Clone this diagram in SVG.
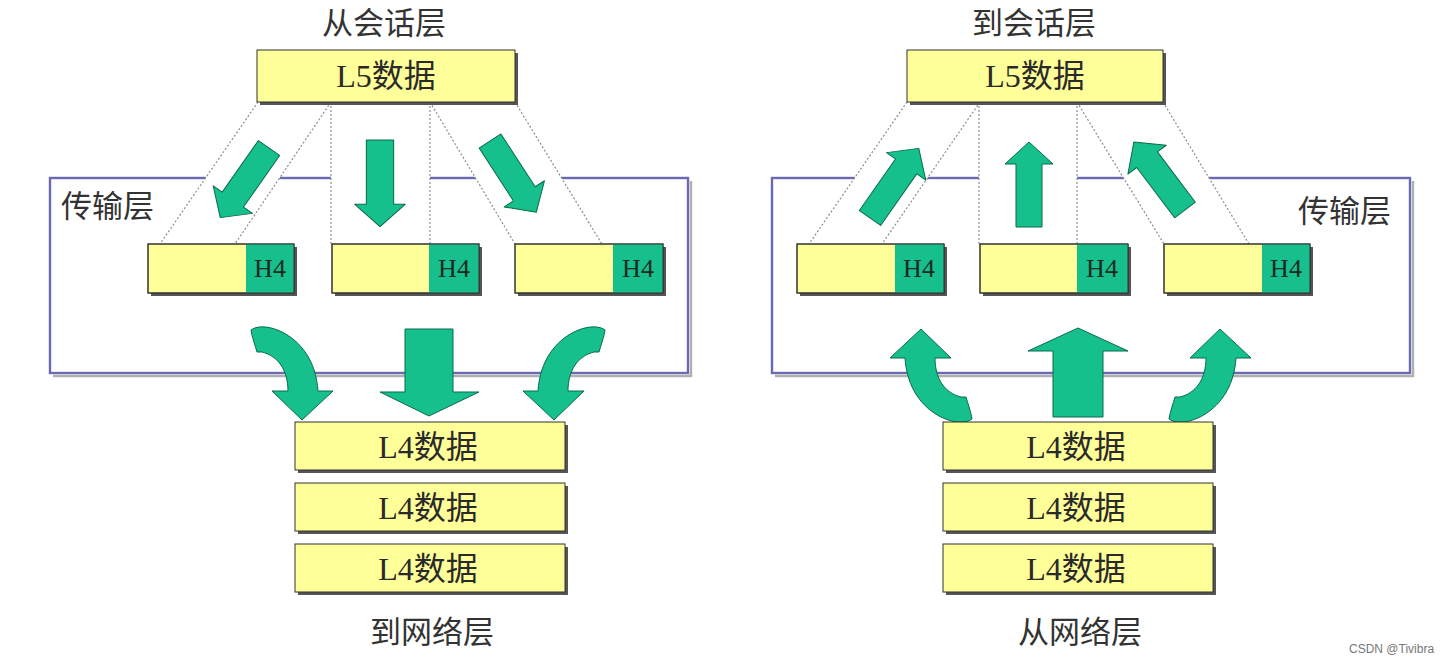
<svg xmlns="http://www.w3.org/2000/svg" xmlns:xlink="http://www.w3.org/1999/xlink" width="1449" height="663" viewBox="0 0 1449 663">
  <style>
    .shadow { fill: #555555; }
    .ybox { fill: #ffff99; stroke: #333; stroke-width: 1; }
    .gpart { fill: #17bf8d; }
    .outline { fill: none; stroke: #333; stroke-width: 1; }
    .frame { fill: none; stroke: #6a6ab2; stroke-width: 2.4; }
    .frame-shadow { fill: none; stroke: #b0b0b0; stroke-width: 2.4; }
    .band { fill: #ffffff; }
    .dot { fill: none; stroke: #8c8c8c; stroke-width: 1.2; stroke-dasharray: 2 2; }
    .arrow { fill: #15c08c; stroke: #0b6a4d; stroke-width: 1; stroke-linejoin: round; }
    .label { font-family: 'Noto Sans CJK SC', 'Noto Sans', sans-serif; font-size: 31px; fill: #333; text-anchor: middle; }
    .label-start { font-family: 'Noto Sans CJK SC', 'Noto Sans', sans-serif; font-size: 31px; fill: #333; }
    .data { font-family: 'Liberation Serif', 'Noto Sans CJK SC', serif; font-size: 32px; fill: #2a2a2a; text-anchor: middle; }
    .hdr { font-family: 'Liberation Serif', serif; font-size: 26px; fill: #1c2a22; text-anchor: middle; }
    .credit { font-family: 'Liberation Sans', Arial, sans-serif; font-size: 12px; fill: #777; }
  </style>
  <defs>
    <!-- straight block arrow, tail at origin, pointing along +y -->
    <path id="blockArrow" d="M-13,0 H13 V63 H24 L0,85 L-24,63 H-13 Z"/>
    <!-- curved ribbon arrow bending down to the right -->
    <path id="curveArrow" d="M251,330 C256,326 268,325 282,332 C300,341 316,360 318,391 L333,391 L302,420 L272,391 L288,391 C288,370 278,356 262,352 L257,352 C255,345 252,337 251,330 Z"/>
  </defs>

  <rect width="1449" height="663" fill="#ffffff"/>

  <!-- transport layer frames (shadow on bottom and right only) -->
  <g id="transport-left">
    <polyline class="frame-shadow" points="53,376 691,376 691,181"/>
    <rect class="frame" x="50" y="178" width="638" height="195"/>
    <text class="label-start" x="61" y="217">传输层</text>
  </g>
  <g id="transport-right">
    <polyline class="frame-shadow" points="775,376 1413,376 1413,181"/>
    <rect class="frame" x="772" y="178" width="638" height="195"/>
    <text class="label-start" x="1298" y="222">传输层</text>
  </g>

  <!-- connectors: segmentation guides and flow arrows -->
  <g id="connectors">
    <!-- guide bands (left: segmentation) -->
    <polygon class="band" points="258,102 331,102 235,244 160,244"/>
    <rect class="band" x="331" y="102" width="99" height="142"/>
    <polygon class="band" points="430,102 515,102 602,244 515,244"/>
    <line class="dot" x1="258" y1="102" x2="160" y2="244"/>
    <line class="dot" x1="331" y1="102" x2="235" y2="244"/>
    <line class="dot" x1="331" y1="102" x2="331" y2="244"/>
    <line class="dot" x1="430" y1="102" x2="430" y2="244"/>
    <line class="dot" x1="430" y1="102" x2="515" y2="244"/>
    <line class="dot" x1="515" y1="102" x2="602" y2="244"/>

    <!-- guide bands (right: reassembly) -->
    <polygon class="band" points="907,102 980,102 882,244 809,244"/>
    <rect class="band" x="979" y="102" width="98" height="142"/>
    <polygon class="band" points="1077,102 1163,102 1249,244 1164,244"/>
    <line class="dot" x1="907" y1="102" x2="809" y2="244"/>
    <line class="dot" x1="980" y1="102" x2="882" y2="244"/>
    <line class="dot" x1="979" y1="102" x2="979" y2="244"/>
    <line class="dot" x1="1077" y1="102" x2="1077" y2="244"/>
    <line class="dot" x1="1077" y1="102" x2="1164" y2="244"/>
    <line class="dot" x1="1163" y1="102" x2="1249" y2="244"/>

    <!-- L5 to segments -->
    <use xlink:href="#blockArrow" class="arrow" transform="translate(269,148) rotate(35)"/>
    <use xlink:href="#blockArrow" class="arrow" transform="translate(380,140) scale(1.05,1.02)"/>
    <use xlink:href="#blockArrow" class="arrow" transform="translate(490,141) rotate(-33)"/>

    <!-- segments to L5 -->
    <use xlink:href="#blockArrow" class="arrow" transform="translate(870,218) rotate(215)"/>
    <use xlink:href="#blockArrow" class="arrow" transform="translate(1029,227) rotate(180)"/>
    <use xlink:href="#blockArrow" class="arrow" transform="translate(1185,210) rotate(143)"/>

    <!-- transport to network -->
    <use xlink:href="#curveArrow" class="arrow"/>
    <path class="arrow" d="M405,329 H453 V392 H479 L429,416 L380,392 H405 Z"/>
    <use xlink:href="#curveArrow" class="arrow" transform="matrix(-1,0,0,1,856,0)"/>

    <!-- network to transport -->
    <use xlink:href="#curveArrow" class="arrow" transform="matrix(-1,0,0,-1,1223,749)"/>
    <path class="arrow" d="M1053,417 H1103 V351 H1128 L1078,328 L1028,351 H1053 Z"/>
    <use xlink:href="#curveArrow" class="arrow" transform="matrix(1,0,0,-1,918,749)"/>
  </g>

  <!-- session layer data -->
  <g id="session-left">
    <text class="label" x="384" y="34">从会话层</text>
    <rect class="shadow" x="260" y="53" width="258" height="52"/>
    <rect class="ybox" x="257" y="50" width="258" height="52"/>
    <text class="data" x="386" y="87">L5数据</text>
  </g>
  <g id="session-right">
    <text class="label" x="1034" y="34">到会话层</text>
    <rect class="shadow" x="910" y="53" width="256" height="52"/>
    <rect class="ybox" x="907" y="50" width="256" height="52"/>
    <text class="data" x="1035" y="87">L5数据</text>
  </g>

  <!-- segments with H4 headers -->
  <g id="seg-left-1">
    <rect class="shadow" x="151" y="247" width="146" height="49"/>
    <rect class="ybox" x="148" y="244" width="146" height="49"/>
    <rect class="gpart" x="246" y="244" width="48" height="49"/>
    <rect class="outline" x="148" y="244" width="146" height="49"/>
    <text class="hdr" x="270" y="277">H4</text>
  </g>
  <g id="seg-left-2">
    <rect class="shadow" x="335" y="247" width="147" height="49"/>
    <rect class="ybox" x="332" y="244" width="147" height="49"/>
    <rect class="gpart" x="429" y="244" width="50" height="49"/>
    <rect class="outline" x="332" y="244" width="147" height="49"/>
    <text class="hdr" x="454" y="277">H4</text>
  </g>
  <g id="seg-left-3">
    <rect class="shadow" x="518" y="247" width="148" height="49"/>
    <rect class="ybox" x="515" y="244" width="148" height="49"/>
    <rect class="gpart" x="613" y="244" width="50" height="49"/>
    <rect class="outline" x="515" y="244" width="148" height="49"/>
    <text class="hdr" x="638" y="277">H4</text>
  </g>
  <g id="seg-right-1">
    <rect class="shadow" x="800" y="247" width="147" height="49"/>
    <rect class="ybox" x="797" y="244" width="147" height="49"/>
    <rect class="gpart" x="895" y="244" width="49" height="49"/>
    <rect class="outline" x="797" y="244" width="147" height="49"/>
    <text class="hdr" x="919" y="277">H4</text>
  </g>
  <g id="seg-right-2">
    <rect class="shadow" x="983" y="247" width="148" height="49"/>
    <rect class="ybox" x="980" y="244" width="148" height="49"/>
    <rect class="gpart" x="1077" y="244" width="51" height="49"/>
    <rect class="outline" x="980" y="244" width="148" height="49"/>
    <text class="hdr" x="1102" y="277">H4</text>
  </g>
  <g id="seg-right-3">
    <rect class="shadow" x="1167" y="247" width="146" height="49"/>
    <rect class="ybox" x="1164" y="244" width="146" height="49"/>
    <rect class="gpart" x="1262" y="244" width="48" height="49"/>
    <rect class="outline" x="1164" y="244" width="146" height="49"/>
    <text class="hdr" x="1286" y="277">H4</text>
  </g>

  <!-- network layer data, outbound -->
  <g id="network-left">
    <rect class="shadow" x="298" y="425" width="270" height="48"/>
    <rect class="ybox" x="295" y="422" width="270" height="48"/>
    <text class="data" x="428" y="458">L4数据</text>
    <rect class="shadow" x="298" y="486" width="270" height="48"/>
    <rect class="ybox" x="295" y="483" width="270" height="48"/>
    <text class="data" x="428" y="519">L4数据</text>
    <rect class="shadow" x="298" y="547" width="270" height="48"/>
    <rect class="ybox" x="295" y="544" width="270" height="48"/>
    <text class="data" x="428" y="580">L4数据</text>
    <text class="label" x="432" y="643">到网络层</text>
  </g>

  <!-- network layer data, inbound -->
  <g id="network-right">
    <rect class="shadow" x="946" y="425" width="270" height="48"/>
    <rect class="ybox" x="943" y="422" width="270" height="48"/>
    <text class="data" x="1076" y="458">L4数据</text>
    <rect class="shadow" x="946" y="486" width="270" height="48"/>
    <rect class="ybox" x="943" y="483" width="270" height="48"/>
    <text class="data" x="1076" y="519">L4数据</text>
    <rect class="shadow" x="946" y="547" width="270" height="48"/>
    <rect class="ybox" x="943" y="544" width="270" height="48"/>
    <text class="data" x="1076" y="580">L4数据</text>
    <text class="label" x="1080" y="643">从网络层</text>
  </g>

  <text class="credit" x="1349" y="653">CSDN @Tivibra</text>
</svg>
